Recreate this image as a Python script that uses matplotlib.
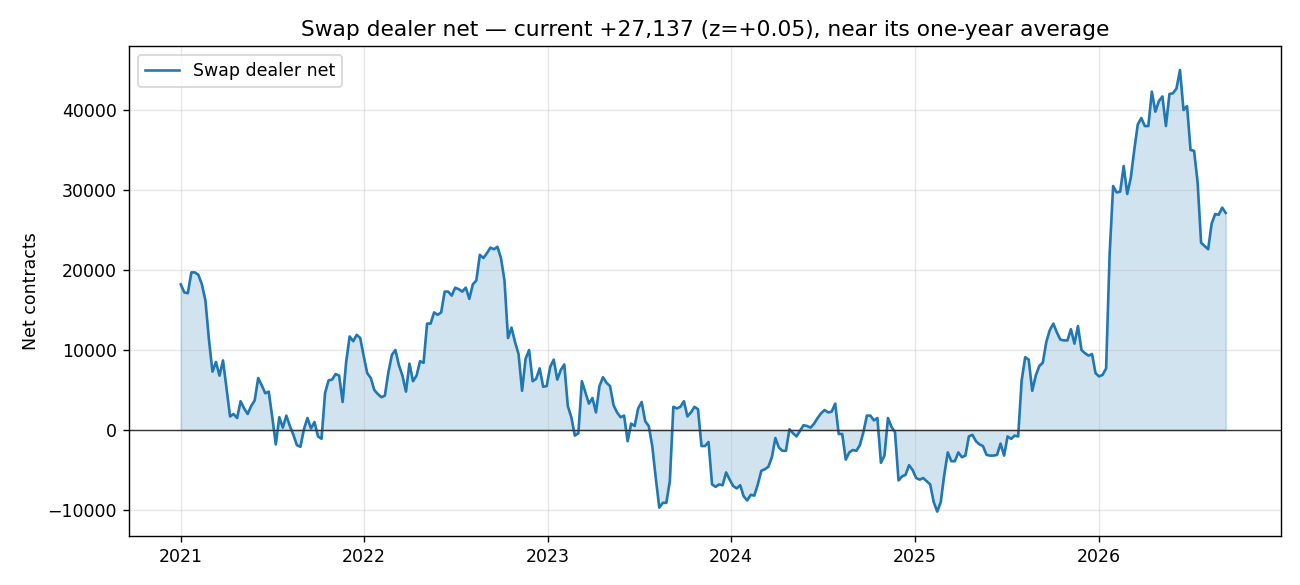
import matplotlib
matplotlib.use("Agg")
import matplotlib.pyplot as plt
import pandas as pd
import numpy as np

v2021 = [18.2, 17.2, 17.1, 19.7, 19.7, 19.4, 18.2, 16.2, 11.3, 7.3, 8.5, 6.8, 8.7, 5.2, 1.7, 2.0, 1.5, 3.6, 2.7, 2.0, 3.0, 3.7, 6.5, 5.6, 4.6, 4.8, 1.6, -1.8, 1.6, 0.3, 1.8, 0.5, -0.6, -1.9, -2.1, 0.1, 1.5, 0.2, 1.0, -0.8, -1.1, 4.6, 6.2, 6.3, 7.0, 6.8, 3.5, 8.5, 11.7, 11.1, 11.9, 11.5]
v2022 = [9.2, 7.1, 6.5, 5.0, 4.5, 4.1, 4.3, 7.2, 9.4, 10.0, 8.1, 6.8, 4.8, 8.3, 6.1, 6.8, 8.6, 8.4, 13.3, 13.3, 14.7, 14.4, 14.7, 17.3, 17.3, 16.8, 17.8, 17.6, 17.3, 17.8, 16.4, 18.2, 18.7, 21.9, 21.5, 22.1, 22.8, 22.6, 22.9, 21.5, 18.7, 11.5, 12.8, 11.0, 9.5, 4.9, 8.9, 10.0, 6.1, 6.4, 7.7, 5.4]
v2023 = [5.5, 7.9, 8.8, 6.3, 7.5, 8.2, 3.0, 1.6, -0.7, -0.4, 6.1, 4.7, 3.3, 4.0, 2.2, 5.5, 6.6, 5.9, 5.5, 3.1, 2.2, 1.6, 1.8, -1.4, 0.8, 0.5, 2.7, 3.5, 1.1, 0.5, -2.0, -6.0, -9.7, -9.1, -9.1, -6.4, 2.9, 2.7, 2.9, 3.6, 1.7, 2.2, 2.9, 2.6, -2.0, -2.0, -1.5, -6.8, -7.1, -6.8, -6.9, -5.3]
v2024 = [-6.2, -7.0, -7.3, -6.9, -8.3, -8.8, -8.1, -8.2, -6.8, -5.1, -4.9, -4.6, -3.4, -1.0, -2.2, -2.6, -2.6, 0.1, -0.4, -0.8, -0.1, 0.6, 0.5, 0.3, 0.8, 1.5, 2.1, 2.5, 2.2, 2.3, 3.3, -0.5, -0.5, -3.7, -2.8, -2.5, -2.6, -1.9, -0.3, 1.8, 1.8, 1.2, 1.5, -4.1, -3.2, 1.5, 0.4, -0.3, -6.3, -5.8, -5.6, -4.4]
v2025 = [-5.0, -6.0, -6.2, -6.0, -6.4, -6.8, -9.0, -10.2, -9.0, -5.6, -2.8, -3.9, -3.9, -2.8, -3.4, -3.2, -0.8, -0.6, -1.4, -1.8, -2.0, -3.1, -3.2, -3.2, -3.1, -1.7, -3.2, -0.8, -1.1, -0.7, -0.8, 6.2, 9.1, 8.8, 4.9, 6.8, 8.0, 8.4, 11.0, 12.5, 13.3, 12.2, 11.3, 11.2, 11.2, 12.6, 10.8, 13.0, 10.0, 9.6, 9.3, 9.5]
v2026 = [7.1, 6.7, 6.9, 7.7, 22.0, 30.5, 29.7, 29.8, 33.0, 29.5, 31.5, 35.0, 38.2, 39.0, 38.0, 38.0, 42.3, 39.8, 41.1, 41.7, 38.0, 42.0, 42.1, 42.7, 45.0, 40.0, 40.5, 35.0, 34.9, 31.0, 23.4, 23.0, 22.6, 25.8, 27.0, 26.9, 27.8, 27.137]

values = np.array(v2021 + v2022 + v2023 + v2024 + v2025 + v2026) * 1000
dates = pd.date_range("2021-01-01", periods=len(values), freq="7D")

fig = plt.figure(figsize=(10.4, 4.68), dpi=125)
ax = fig.add_axes([129/1300, 49/585, 1152/1300, 490/585])
ax.plot(dates, values, color="#1f77b4", lw=1.5, label="Swap dealer net")
ax.fill_between(dates, values, 0, color="#1f77b4", alpha=0.2)
ax.axhline(0, color="#333333", lw=0.8)
ax.grid(True, alpha=0.3)
ax.set_xlim(pd.Timestamp("2020-09-20"), pd.Timestamp("2026-12-30"))
ax.set_ylim(-13250, 48000)
ax.set_ylabel("Net contracts")
ax.set_title("Swap dealer net — current +27,137 (z=+0.05), near its one-year average", fontsize=12.5)
ax.legend(loc="upper left")
fig.savefig("out.png", dpi=125)
